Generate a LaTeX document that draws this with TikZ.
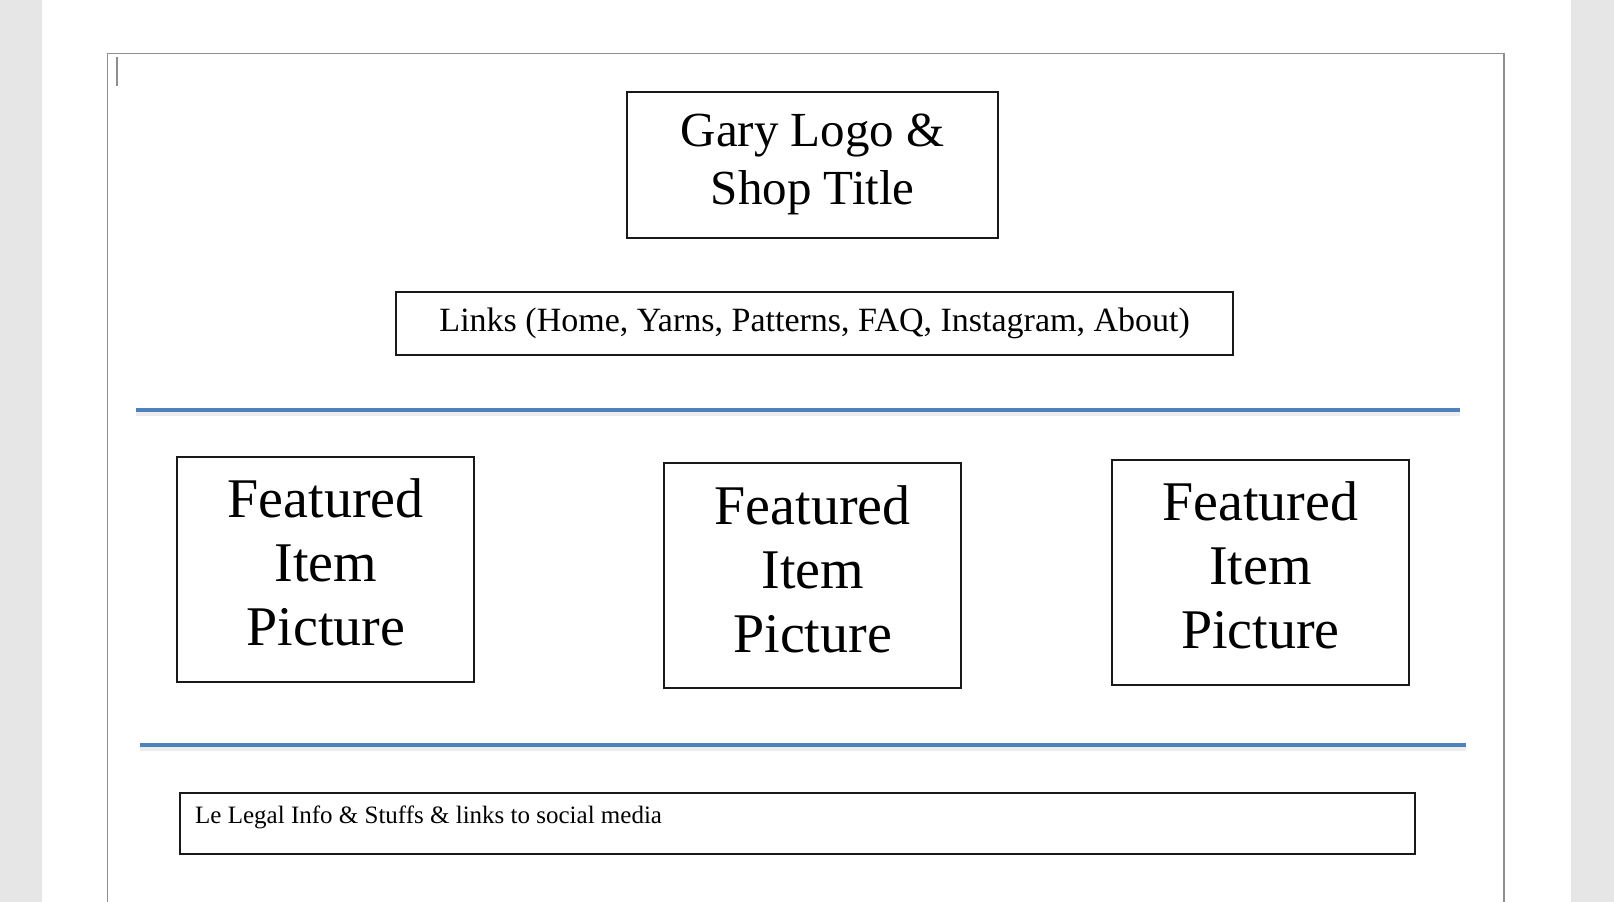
\documentclass[tikz,border=0pt]{standalone}
\usepackage{fontspec}
\setmainfont{Liberation Serif}
\usetikzlibrary{positioning}

\definecolor{deskgray}{HTML}{E6E6E6}
\definecolor{pageedge}{HTML}{8E8E8E}
\definecolor{sepblue}{HTML}{4F81BD}

\begin{document}
\begin{tikzpicture}[
    x=1pt, y=-1pt,
    wirebox/.style={
        draw=black!90,
        line width=2pt,
        inner sep=0pt,
        align=center
    },
    featbox/.style={
        wirebox,
        minimum width=297pt,
        minimum height=225pt
    },
    feattext/.style={
        align=center,
        inner sep=0pt,
        font=\fontsize{56}{64}\selectfont
    },
    separator/.style={sepblue, line width=4.5pt},
    sepshadow/.style={black, opacity=0.07, line width=6pt},
    node distance=52pt
]
\useasboundingbox (0,0) rectangle (1614,902);

% ------------------------
% Page
% ------------------------
\fill[deskgray] (0,0) rectangle (1614,902);
\fill[white] (42,0) rectangle (1571,902);
\draw[pageedge, line width=1.5pt] (107.5,902) |- (1504,53.7) -- (1504,902);
\draw[pageedge, line width=1.2pt] (117,57) -- (117,86);

% ------------------------
% Header
% ------------------------
\node[wirebox, minimum width=371pt, minimum height=146pt,
      font=\fontsize{49}{58}\selectfont] (logo) at (812.7,164.5)
{Gary Logo \&\\
Shop Title};

\node[wirebox, minimum width=837pt, minimum height=63pt,
      font=\fontsize{34}{40}\selectfont] (links) at (814.7,323.7)
{Links (Home, Yarns, Patterns, FAQ, Instagram, About)};

% ------------------------
% Featured items
% ------------------------
\coordinate (topsepl) at (135.5,410);
\coordinate (topsepr) at (1459.5,410);
\draw[sepshadow] ([yshift=-2.5pt]topsepl) -- ([yshift=-2.5pt]topsepr);
\draw[separator] (topsepl) -- (topsepr);

\node[featbox] (feat1) at (325.8,569.8) {};
\node[featbox] (feat2) at (812.7,575.9) {};
\node[featbox] (feat3) at (1260.4,572.8) {};

\node[feattext] (feat1txt) at ([yshift=7pt]feat1.center) {Featured\\Item\\Picture};
\node[feattext] (feat2txt) at ([yshift=7pt]feat2.center) {Featured\\Item\\Picture};
\node[feattext] (feat3txt) at ([yshift=7pt]feat3.center) {Featured\\Item\\Picture};

\coordinate (botsepl) at (140,745);
\coordinate (botsepr) at (1465.5,745);
\draw[sepshadow] ([yshift=-2.5pt]botsepl) -- ([yshift=-2.5pt]botsepr);
\draw[separator] (botsepl) -- (botsepr);

% ------------------------
% Footer
% ------------------------
\node[wirebox, minimum width=1235pt, minimum height=61pt] (legal) at (797.3,823) {};
\node[anchor=base west, inner sep=0pt, font=\fontsize{25}{30}\selectfont]
    (legaltext) at (195,823)
{Le Legal Info \& Stuffs \& links to social media};

\end{tikzpicture}
\end{document}
